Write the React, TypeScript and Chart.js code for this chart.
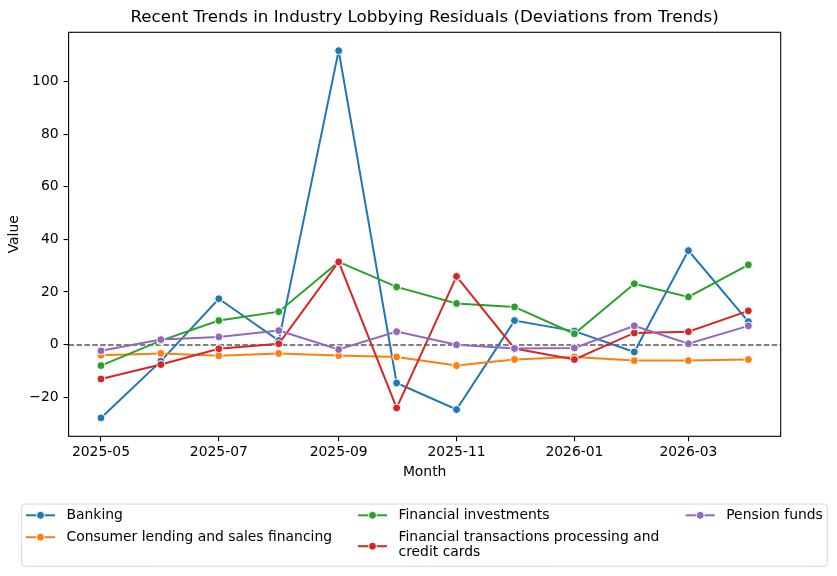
import React, { useEffect, useRef } from "react";
import { Chart, registerables } from "chart.js";

Chart.register(...registerables);

// Monthly residuals by industry
const months = [
  "2025-05", "2025-06", "2025-07", "2025-08", "2025-09", "2025-10",
  "2025-11", "2025-12", "2026-01", "2026-02", "2026-03", "2026-04",
];
const banking = [-27.9, -6.3, 17.4, 1.5, 111.7, -14.6, -24.7, 9.1, 5.1, -2.8, 35.7, 8.7];
const consumerLending = [-4.1, -3.4, -4.3, -3.4, -4.2, -4.7, -8.0, -5.7, -4.7, -6.1, -6.1, -5.7];
const financialInvestments = [-8.0, 1.5, 9.1, 12.5, 31.4, 21.9, 15.6, 14.3, 4.1, 23.1, 18.1, 30.3];
const financialTransactions = [-13.1, -7.6, -1.6, 0.3, 31.4, -24.1, 25.9, -1.5, -5.7, 4.4, 4.9, 12.8];
const pensionFunds = [-2.4, 1.9, 2.9, 5.3, -1.9, 4.9, -0.1, -1.5, -1.3, 7.1, 0.3, 7.1];

const xTickLabels = ["2025-05", "2025-07", "2025-09", "2025-11", "2026-01", "2026-03"];
const yTickValues = [-20, 0, 20, 40, 60, 80, 100];

const seriesNames = [
  "Banking",
  "Consumer lending and sales financing",
  "Financial investments",
  "Financial transactions processing and credit cards",
  "Pension funds",
];
const seriesValues = [banking, consumerLending, financialInvestments, financialTransactions, pensionFunds];
const seriesColors = ["#1f77b4", "#ff7f0e", "#2ca02c", "#d62728", "#9467bd"];

const FONT = "'DejaVu Sans', 'Liberation Sans', sans-serif";
const TICK_PX = 13.9;

// days since the first month
const toDay = (m: string) => {
  const [y, mo] = m.split("-").map(Number);
  return (Date.UTC(y, mo - 1, 1) - Date.UTC(2025, 4, 1)) / 86400000;
};
const monthDays = months.map(toDay);
const xTickDays = xTickLabels.map(toDay);

const span = monthDays[monthDays.length - 1] - monthDays[0];
const xMin = monthDays[0] - 0.05 * span;
const xMax = monthDays[monthDays.length - 1] + 0.05 * span;

const allValues = seriesValues.flat();
const vMin = Math.min(...allValues);
const vMax = Math.max(...allValues);
const yMin = vMin - 0.05 * (vMax - vMin);
const yMax = vMax + 0.05 * (vMax - vMin);

// legend layout: column, row and label lines for each series
const legendSlots = [
  { col: 0, row: 0, lines: ["Banking"] },
  { col: 0, row: 1, lines: ["Consumer lending and sales financing"] },
  { col: 1, row: 0, lines: ["Financial investments"] },
  { col: 1, row: 1, lines: ["Financial transactions processing and", "credit cards"] },
  { col: 2, row: 0, lines: ["Pension funds"] },
];

const framePlugin = {
  id: "frameAndExtras",
  beforeDatasetsDraw(chart: any) {
    const { ctx, chartArea, scales } = chart;
    const y0 = Math.round(scales.y.getPixelForValue(0));
    ctx.save();
    ctx.beginPath();
    ctx.rect(chartArea.left, chartArea.top, chartArea.right - chartArea.left, chartArea.bottom - chartArea.top);
    ctx.clip();
    ctx.strokeStyle = "#808080";
    ctx.lineWidth = 2;
    ctx.setLineDash([5.5, 2.4]);
    ctx.beginPath();
    ctx.moveTo(chartArea.left, y0);
    ctx.lineTo(chartArea.right, y0);
    ctx.stroke();
    ctx.restore();
  },
  afterDraw(chart: any) {
    const { ctx, chartArea } = chart;
    ctx.save();
    // axes box
    ctx.strokeStyle = "#000";
    ctx.lineWidth = 1.1;
    ctx.strokeRect(chartArea.left, chartArea.top, chartArea.right - chartArea.left, chartArea.bottom - chartArea.top);

    // title
    ctx.fillStyle = "#000";
    ctx.font = `16.7px ${FONT}`;
    ctx.textAlign = "center";
    ctx.textBaseline = "middle";
    ctx.fillText(
      "Recent Trends in Industry Lobbying Residuals (Deviations from Trends)",
      (chartArea.left + chartArea.right) / 2,
      17.5
    );

    // legend frame
    const bx = 21.7, by = 504, bw = 805.6, bh = 62.3, r = 3;
    ctx.beginPath();
    ctx.moveTo(bx + r, by);
    ctx.arcTo(bx + bw, by, bx + bw, by + bh, r);
    ctx.arcTo(bx + bw, by + bh, bx, by + bh, r);
    ctx.arcTo(bx, by + bh, bx, by, r);
    ctx.arcTo(bx, by, bx + bw, by, r);
    ctx.closePath();
    ctx.fillStyle = "rgba(255,255,255,0.8)";
    ctx.fill();
    ctx.strokeStyle = "#d6d6d6";
    ctx.lineWidth = 1;
    ctx.stroke();

    const colX = [26, 358, 685.7];
    const rowY = [515.3, 537.2];
    const lineGap = 15;
    ctx.font = `${TICK_PX}px ${FONT}`;
    ctx.textAlign = "left";
    ctx.textBaseline = "middle";
    legendSlots.forEach((slot, i) => {
      const x = colX[slot.col];
      const ty = rowY[slot.row];
      const hy = ty + ((slot.lines.length - 1) * lineGap) / 2 + (slot.lines.length > 1 ? 1.5 : 0);
      ctx.strokeStyle = seriesColors[i];
      ctx.lineWidth = 2;
      ctx.setLineDash([]);
      ctx.beginPath();
      ctx.moveTo(x, hy);
      ctx.lineTo(x + 29, hy);
      ctx.stroke();
      ctx.beginPath();
      ctx.arc(x + 14.5, hy, 4, 0, Math.PI * 2);
      ctx.fillStyle = seriesColors[i];
      ctx.fill();
      ctx.strokeStyle = "#fff";
      ctx.lineWidth = 1;
      ctx.stroke();
      ctx.fillStyle = "#000";
      slot.lines.forEach((line, k) => {
        ctx.fillText(line, x + 40.5, ty + k * lineGap);
      });
    });
    ctx.restore();
  },
};

export default function App() {
  const canvasRef = useRef<HTMLCanvasElement | null>(null);

  useEffect(() => {
    if (!canvasRef.current) return;
    const tickFont = { family: FONT, size: TICK_PX };
    const chart = new Chart(canvasRef.current, {
      type: "line",
      data: {
        datasets: seriesNames.map((name, i) => ({
          label: name,
          data: seriesValues[i].map((v, j) => ({ x: monthDays[j], y: v })),
          borderColor: seriesColors[i],
          backgroundColor: seriesColors[i],
          pointBackgroundColor: seriesColors[i],
          pointBorderColor: "#ffffff",
          pointBorderWidth: 1,
          pointRadius: 4,
          borderWidth: 2,
          tension: 0,
          fill: false,
          order: seriesNames.length - i,
        })),
      },
      options: {
        animation: false,
        responsive: false,
        devicePixelRatio: 1,
        layout: { padding: { top: 32.3, left: 0, right: 56.3, bottom: 89.7 } },
        plugins: {
          legend: { display: false },
          title: { display: false },
          tooltip: { enabled: false },
        },
        scales: {
          x: {
            type: "linear",
            min: xMin,
            max: xMax,
            afterBuildTicks: (s: any) => {
              s.ticks = xTickDays.map((v) => ({ value: v }));
            },
            afterFit: (s: any) => {
              s.height = 50;
            },
            ticks: {
              callback: (_v: any, idx: number) => xTickLabels[idx],
              font: tickFont,
              color: "#000",
              padding: 3,
              maxRotation: 0,
              autoSkip: false,
            },
            grid: {
              display: true,
              drawOnChartArea: false,
              drawTicks: true,
              tickLength: 5,
              color: "#000",
              lineWidth: 1.1,
            },
            border: { display: false },
            title: {
              display: true,
              text: "Month",
              font: tickFont,
              color: "#000",
              padding: { top: 0, bottom: 5.5 },
            },
          },
          y: {
            type: "linear",
            min: yMin,
            max: yMax,
            afterBuildTicks: (s: any) => {
              s.ticks = yTickValues.map((v) => ({ value: v }));
            },
            afterFit: (s: any) => {
              s.width = 68.6;
            },
            ticks: {
              callback: (v: any) => (v < 0 ? "\u2212" + Math.abs(v) : String(v)),
              font: tickFont,
              color: "#000",
              padding: 5,
            },
            grid: {
              display: true,
              drawOnChartArea: false,
              drawTicks: true,
              tickLength: 5,
              color: "#000",
              lineWidth: 1.1,
            },
            border: { display: false },
            title: {
              display: true,
              text: "Value",
              font: tickFont,
              color: "#000",
              padding: { top: 6.5, bottom: 0 },
            },
          },
        },
      },
      plugins: [framePlugin],
    });
    return () => chart.destroy();
  }, []);

  return (
    <div style={{ position: "absolute", left: 0, top: 0, width: 837, height: 576, background: "#fff" }}>
      <canvas ref={canvasRef} width={837} height={576} style={{ display: "block" }} />
    </div>
  );
}
